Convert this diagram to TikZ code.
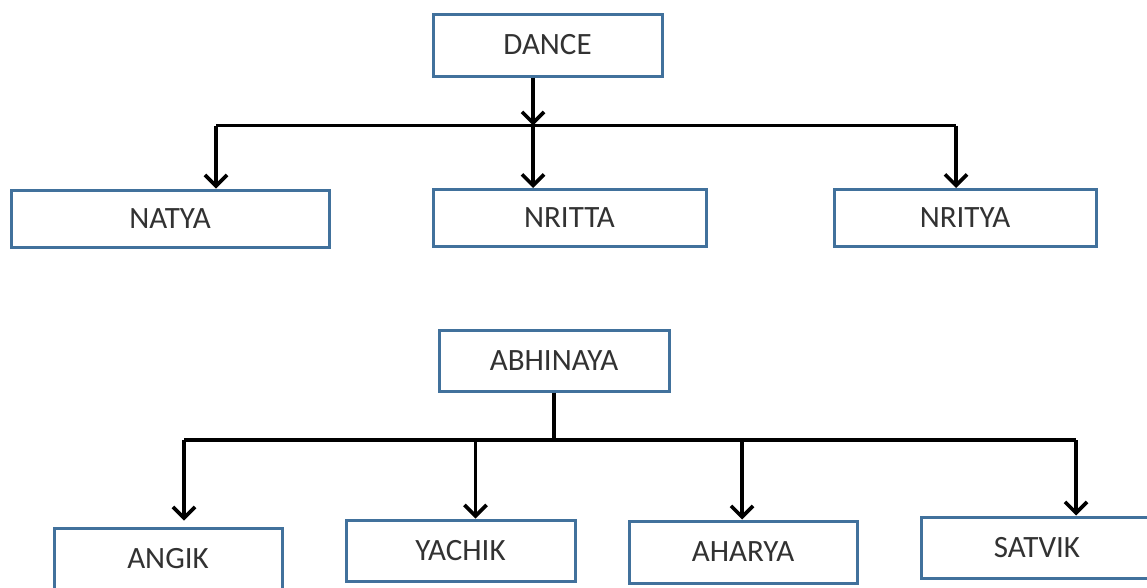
\documentclass[tikz,border=0pt]{standalone}
\usepackage{fontspec}
\setmainfont{Carlito}
\usetikzlibrary{arrows.meta,calc}
\definecolor{boxblue}{RGB}{65,113,156}
\definecolor{txtgray}{RGB}{50,50,50}
\tikzset{
  box/.style={draw=boxblue, line width=3pt, rectangle, inner sep=0pt,
    text=txtgray, font=\fontsize{31}{32}\selectfont},
  conn/.style={draw=black, line width=3.4pt},
  arr/.style={conn, -{Straight Barb[length=11pt,width=22pt,line width=3.6pt]}},
}
\begin{document}
\begin{tikzpicture}[x=1pt,y=-1pt]
\useasboundingbox (0,0) rectangle (1147,587);
\fill[white] (0,0) rectangle (1147,587);
% top tree
\node[box, minimum width=229pt, minimum height=62pt] (dance) at (547.5,45) {DANCE};
\node[box, minimum width=318pt, minimum height=57pt] (natya) at (170,218.5) {NATYA};
\node[box, minimum width=273pt, minimum height=57pt] (nritta) at (569.5,218) {NRITTA};
\node[box, minimum width=262pt, minimum height=57pt] (nritya) at (965,218) {NRITYA};
\coordinate (t0) at (533,125.5);
\coordinate (t1) at (216,125.5);
\coordinate (t3) at (956,125.5);
\draw[arr] (dance.south -| t0) -- (t0);
\draw[conn] (t1) -- (t3);
\draw[arr] (t1) -- (t1 |- natya.north);
\draw[arr] (t0) -- (t0 |- nritta.north);
\draw[arr] (t3) -- (t3 |- nritya.north);
% bottom tree
\node[box, minimum width=230pt, minimum height=61pt] (abhinaya) at (554,360.5) {ABHINAYA};
\node[box, minimum width=228pt, minimum height=61pt] (angik) at (168,558.5) {ANGIK};
\node[box, minimum width=229pt, minimum height=61pt] (yachik) at (460.5,550.5) {YACHIK};
\node[box, minimum width=228pt, minimum height=62pt] (aharya) at (743,552) {AHARYA};
\node[box, minimum width=232pt, minimum height=61pt] (satvik) at (1037,547.5) {SATVIK};
\coordinate (b0) at (554,440);
\coordinate (b1) at (184,440);
\coordinate (b2) at (475.5,440);
\coordinate (b3) at (742,440);
\coordinate (b4) at (1076,440);
\draw[conn] (abhinaya.south -| b0) -- (b0);
\draw[conn] (b1) -- (b4);
\draw[arr] (b1) -- ($(b1 |- angik.north)+(0,-6)$);
\draw[arr] (b2) -- (b2 |- yachik.north);
\draw[arr] (b3) -- (b3 |- aharya.north);
\draw[arr] (b4) -- (b4 |- satvik.north);
\end{tikzpicture}
\end{document}
